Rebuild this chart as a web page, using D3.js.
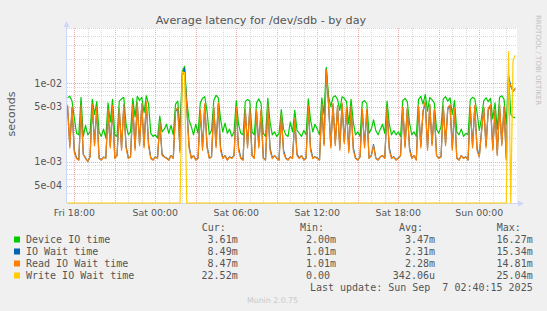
<!DOCTYPE html>
<html>
<head>
<meta charset="utf-8">
<script src="https://cdn.jsdelivr.net/npm/d3@7"></script>
<style>
  body { margin: 0; background: #f0f0f0; }
  svg text { white-space: pre; }
</style>
</head>
<body>
<div id="graph"></div>
<script>

/////////// DATA (milliseconds, one sample every 10 minutes) *****************
// *******************************************************************

var sampleStart = new Date(2025, 8, 5, 17, 30, 0);
var sampleStepMinutes = 10;

var deviceIO = [
  6.5, 6.8, 5.9, 3.6, 2.3, 2.2, 6.6, 2.1, 2.9, 2.2, 2.4, 6.2, 4.0, 5.8, 2.4, 2.1, 2.6, 2.0, 5.6, 3.2,
  6.2, 2.2, 2.1, 5.9, 6.3, 6.6, 3.0, 2.2, 2.4, 6.4, 3.7, 6.8, 6.0, 6.6, 4.2, 6.9, 5.4, 2.3, 2.1, 2.2,
  2.0, 3.8, 2.4, 2.6, 3.0, 2.3, 2.9, 2.2, 5.4, 5.9, 2.5, 14.2, 16.27, 6.0, 3.4, 2.8, 2.2, 3.0, 2.3, 5.6,
  6.4, 6.7, 4.4, 2.2, 2.5, 6.0, 7.0, 6.5, 3.5, 2.4, 3.1, 2.3, 2.6, 2.1, 2.4, 6.0, 3.0, 2.3, 2.2, 5.8,
  6.2, 5.9, 2.4, 2.2, 5.6, 6.3, 5.5, 2.3, 2.1, 6.4, 3.2, 2.2, 2.4, 2.1, 2.3, 4.6, 2.6, 2.2, 2.1, 3.2,
  2.4, 4.5, 2.5, 2.3, 2.1, 2.5, 2.2, 6.3, 3.4, 2.4, 3.0, 2.6, 2.2, 6.5, 4.0, 15.8, 6.8, 5.0, 6.6, 6.9,
  6.2, 4.5, 6.7, 6.4, 5.8, 3.0, 6.2, 3.2, 2.2, 2.4, 2.1, 5.7, 6.0, 5.5, 2.3, 2.6, 3.4, 2.5, 2.2, 2.6,
  3.0, 2.3, 5.9, 3.0, 2.2, 2.5, 2.2, 2.4, 2.1, 6.0, 6.4, 5.8, 3.1, 2.2, 2.4, 2.1, 6.2, 6.8, 5.4, 7.2,
  4.4, 6.6, 6.1, 5.6, 2.6, 2.3, 2.8, 6.3, 6.7, 5.9, 6.5, 4.0, 6.0, 2.4, 2.2, 2.6, 2.1, 2.3, 2.2, 6.1,
  6.6, 6.3, 4.2, 2.5, 3.6, 6.0, 6.5, 5.8, 6.4, 3.5, 5.6, 2.6, 6.6, 6.9, 6.2, 3.0, 12.6, 4.0, 3.7, 3.61
];

var ioWait = [
  5.1, 1.6, 4.8, 1.4, 1.12, 1.06, 5.0, 1.24, 1.12, 1.01, 1.16, 5.2, 1.7, 4.8, 1.12, 1.06, 1.15, 1.12, 4.4, 1.6,
  5.0, 1.12, 1.2, 4.6, 1.5, 5.2, 1.6, 1.12, 1.16, 5.1, 1.5, 5.5, 1.7, 5.3, 1.6, 5.6, 1.7, 1.12, 1.06, 1.16,
  1.12, 3.2, 1.25, 1.16, 1.12, 1.06, 1.2, 1.12, 4.4, 4.7, 1.4, 13.0, 15.34, 5.0, 1.6, 1.12, 1.2, 1.06, 1.12, 4.4,
  1.5, 5.3, 1.6, 1.12, 1.16, 4.8, 1.6, 5.4, 1.5, 1.12, 1.2, 1.06, 1.16, 1.12, 1.2, 4.8, 1.5, 1.12, 1.06, 4.5,
  1.6, 4.7, 1.2, 1.12, 4.3, 1.6, 4.4, 1.12, 1.06, 5.1, 1.5, 1.12, 1.2, 1.12, 1.06, 3.8, 1.4, 1.12, 1.06, 1.16,
  1.12, 3.4, 1.25, 1.12, 1.2, 1.06, 1.12, 5.0, 1.5, 1.12, 1.16, 1.12, 1.06, 5.2, 1.7, 14.9, 5.4, 1.6, 5.3, 1.7,
  5.0, 1.5, 5.4, 1.8, 4.6, 1.4, 4.9, 1.5, 1.12, 1.06, 1.16, 4.5, 1.6, 4.4, 1.12, 1.2, 1.65, 1.12, 1.06, 1.16,
  1.2, 1.12, 4.7, 1.5, 1.12, 1.16, 1.06, 1.12, 1.2, 4.8, 1.6, 4.7, 1.5, 1.12, 1.2, 1.06, 4.9, 1.6, 4.3, 5.7,
  1.5, 5.2, 1.7, 4.4, 1.2, 1.12, 1.16, 5.0, 1.7, 4.7, 5.1, 1.5, 4.6, 1.12, 1.06, 1.2, 1.12, 1.16, 1.06, 4.8,
  1.6, 5.0, 1.5, 1.16, 2.5, 4.8, 1.6, 4.6, 5.1, 1.5, 4.4, 1.25, 5.2, 1.7, 4.9, 1.1, 12.2, 9.1, 7.9, 8.49
];

var readWait = [
  5.3, 1.5, 5.0, 1.3, 1.1, 1.05, 5.2, 1.25, 1.1, 1.01, 1.15, 5.4, 1.6, 5.0, 1.1, 1.05, 1.15, 1.1, 4.6, 1.5,
  5.2, 1.1, 1.2, 4.8, 1.4, 5.4, 1.5, 1.1, 1.15, 5.3, 1.4, 5.7, 1.6, 5.5, 1.5, 5.8, 1.6, 1.1, 1.05, 1.15,
  1.1, 3.3, 1.2, 1.15, 1.1, 1.05, 1.2, 1.1, 4.5, 4.9, 1.3, 12.6, 13.4, 4.9, 1.5, 1.1, 1.2, 1.05, 1.1, 4.6,
  1.4, 5.5, 1.5, 1.1, 1.15, 5.0, 1.5, 5.6, 1.4, 1.1, 1.2, 1.05, 1.15, 1.1, 1.2, 5.0, 1.4, 1.1, 1.05, 4.7,
  1.5, 4.9, 1.2, 1.1, 4.5, 1.5, 4.6, 1.1, 1.05, 5.3, 1.4, 1.1, 1.2, 1.1, 1.05, 4.0, 1.3, 1.1, 1.05, 1.15,
  1.1, 3.5, 1.2, 1.1, 1.2, 1.05, 1.1, 5.2, 1.4, 1.1, 1.15, 1.1, 1.05, 5.4, 1.6, 14.81, 5.6, 1.5, 5.5, 1.6,
  5.2, 1.4, 5.6, 1.7, 4.8, 1.3, 5.1, 1.4, 1.1, 1.05, 1.15, 4.7, 1.5, 4.6, 1.1, 1.2, 1.6, 1.1, 1.05, 1.15,
  1.2, 1.1, 4.9, 1.4, 1.1, 1.15, 1.05, 1.1, 1.2, 5.0, 1.5, 4.9, 1.4, 1.1, 1.2, 1.05, 5.1, 1.5, 4.5, 5.9,
  1.4, 5.4, 1.6, 4.6, 1.2, 1.1, 1.15, 5.2, 1.6, 4.9, 5.3, 1.4, 4.8, 1.1, 1.05, 1.2, 1.1, 1.15, 1.05, 5.0,
  1.5, 5.2, 1.4, 1.15, 2.4, 5.0, 1.5, 4.8, 5.3, 1.4, 4.6, 1.2, 5.4, 1.6, 5.1, 1.05, 10.5, 9.2, 7.8, 8.47
];

var writeWait = [
  0, 0, 0, 0, 0, 0, 0, 0, 0, 0, 0, 0, 0, 0, 0, 0, 0, 0, 0, 0,
  0, 0, 0, 0, 0, 0, 0, 0, 0, 0, 0, 0, 0, 0, 0, 0, 0, 0, 0, 0,
  0, 0, 0, 0, 0, 0, 0, 0, 0, 0, 0, 13.9, 13.6, 0, 0, 0, 0, 0, 0, 0,
  0, 0, 0, 0, 0, 0, 0, 0, 0, 0, 0, 0, 0, 0, 0, 0, 0, 0, 0, 0,
  0, 0, 0, 0, 0, 0, 0, 0, 0, 0, 0, 0, 0, 0, 0, 0, 0, 0, 0, 0,
  0, 0, 0, 0, 0, 0, 0, 0, 0, 0, 0, 0, 0, 0, 0, 0, 0, 0, 0, 0,
  0, 0, 0, 0, 0, 0, 0, 0, 0, 0, 0, 0, 0, 0, 0, 0, 0, 0, 0, 0,
  0, 0, 0, 0, 0, 0, 0, 0, 0, 0, 0, 0, 0, 0, 0, 0, 0, 0, 0, 0,
  0, 0, 0, 0, 0, 0, 0, 0, 0, 0, 0, 0, 0, 0, 0, 0, 0, 0, 0, 0,
  0, 0, 0, 0, 0, 0, 0, 0, 0, 0, 0, 0, 0, 0, 0, 0, 25.04, 0, 19.5, 22.52
];

// legend table
var seriesNames = ["Device IO time", "IO Wait time", "Read IO Wait time", "Write IO Wait time"];
var curValues = ["3.61m", "8.49m", "8.47m", "22.52m"];
var minValues = ["2.00m", "1.01m", "1.01m", "0.00 "];
var avgValues = ["3.47m", "2.31m", "2.28m", "342.06u"];
var maxValues = ["16.27m", "15.34m", "14.81m", "25.04m"];

// axis ticks
var yTickValues = [1e-2, 5e-3, 1e-3, 5e-4];
var yTickLabels = ["1e-02", "5e-03", "1e-03", "5e-04"];
var yDomain = [3e-4, 5e-2];
var xDomain = [new Date(2025, 8, 5, 17, 27, 36), new Date(2025, 8, 7, 2, 47, 36)];

/////////// SET-UP SVG AREA ******************************************
// *******************************************************************

var svgWidth = 547;
var svgHeight = 311;
var plot = { left: 67, right: 517, top: 28, bottom: 203 };
var colors = ["#00cc00", "#0066b3", "#ff8000", "#ffcc00"];
var sansFont = "DejaVu Sans, sans-serif";
var monoFont = "DejaVu Sans Mono, monospace";
var textColor = "#555555";

var svg = d3.select("#graph")
  .append("svg")
  .attr("width", svgWidth)
  .attr("height", svgHeight);

svg.append("rect")
  .attr("width", svgWidth)
  .attr("height", svgHeight)
  .attr("fill", "#f0f0f0");

svg.append("rect")
  .attr("x", plot.left)
  .attr("y", plot.top)
  .attr("width", plot.right - plot.left)
  .attr("height", plot.bottom - plot.top)
  .attr("fill", "#ffffff");

/////////// SCALES ******************************************
// *******************************************************************

var xScale = d3.scaleTime()
  .domain(xDomain)
  .range([plot.left, plot.right]);

var yScale = d3.scaleLog()
  .domain(yDomain)
  .range([plot.bottom, plot.top]);

function px(v) { return Math.round(v) + 0.5; }

/////////// GRID ******************************************
// *******************************************************************

var gridGroup = svg.append("g");

var majorHours = xScale.ticks(d3.timeHour.every(3)).map(d => +d);
xScale.ticks(d3.timeHour.every(1)).forEach(function(t) {
  var isMajor = majorHours.indexOf(+t) >= 0;
  gridGroup.append("line")
    .attr("x1", px(xScale(t))).attr("x2", px(xScale(t)))
    .attr("y1", plot.top).attr("y2", plot.bottom)
    .attr("stroke", isMajor ? "#f0aaaa" : "#d8d8d8")
    .attr("stroke-dasharray", "1,1")
    .attr("shape-rendering", "crispEdges");
});

yScale.ticks().forEach(function(v) {
  if (v <= yDomain[0] * 1.0001) return;
  var isMajor = yTickValues.some(m => Math.abs(m - v) / m < 1e-6);
  gridGroup.append("line")
    .attr("x1", plot.left).attr("x2", plot.right)
    .attr("y1", px(yScale(v))).attr("y2", px(yScale(v)))
    .attr("stroke", isMajor ? "#f0aaaa" : "#d8d8d8")
    .attr("stroke-dasharray", "1,1")
    .attr("shape-rendering", "crispEdges");
});

/////////// AXES ******************************************
// *******************************************************************

var axisColor = "#cfd6f8";

svg.append("line")
  .attr("x1", plot.left - 0.5).attr("x2", plot.left - 0.5)
  .attr("y1", plot.bottom).attr("y2", plot.top - 4)
  .attr("stroke", axisColor);
svg.append("path")
  .attr("d", `M${plot.left - 3.5},${plot.top - 1} L${plot.left + 2.5},${plot.top - 1} L${plot.left - 0.5},${plot.top - 7} Z`)
  .attr("fill", axisColor);

svg.append("line")
  .attr("x1", plot.left).attr("x2", plot.right + 3)
  .attr("y1", plot.bottom + 0.5).attr("y2", plot.bottom + 0.5)
  .attr("stroke", axisColor);
svg.append("path")
  .attr("d", `M${plot.right + 1},${plot.bottom - 2.5} L${plot.right + 1},${plot.bottom + 3.5} L${plot.right + 7},${plot.bottom + 0.5} Z`)
  .attr("fill", axisColor);

// y tick labels
yTickValues.forEach(function(v, i) {
  svg.append("text")
    .attr("x", 62)
    .attr("y", yScale(v) + 3.5)
    .attr("text-anchor", "end")
    .attr("font-family", sansFont)
    .attr("font-size", "9.6px")
    .attr("fill", textColor)
    .text(yTickLabels[i]);
});

// x tick labels
var xLabelFormat = d3.timeFormat("%a %H:%M");
xScale.ticks(d3.timeHour.every(6)).forEach(function(t) {
  svg.append("text")
    .attr("x", xScale(t))
    .attr("y", 216)
    .attr("text-anchor", "middle")
    .attr("font-family", sansFont)
    .attr("font-size", "9.4px")
    .attr("fill", textColor)
    .text(xLabelFormat(t));
});

/////////// LINES ******************************************
// *******************************************************************

var sampleTimes = deviceIO.map((d, i) => new Date(+sampleStart + i * sampleStepMinutes * 60000));

var line = d3.line()
  .x((d, i) => xScale(sampleTimes[i]))
  .y(d => yScale(Math.max(d / 1000, yDomain[0])));

var plotGroup = svg.append("g");
[deviceIO, ioWait, readWait, writeWait].forEach(function(series, k) {
  plotGroup.append("path")
    .attr("d", line(series))
    .attr("fill", "none")
    .attr("stroke", colors[k])
    .attr("stroke-width", 1.2)
    .attr("stroke-linejoin", "round");
});

/////////// TITLES ******************************************
// *******************************************************************

svg.append("text")
  .attr("x", 261)
  .attr("y", 24)
  .attr("text-anchor", "middle")
  .attr("font-family", sansFont)
  .attr("font-size", "11.2px")
  .attr("fill", textColor)
  .text("Average latency for /dev/sdb - by day");

svg.append("text")
  .attr("transform", "translate(15, 114) rotate(-90)")
  .attr("text-anchor", "middle")
  .attr("font-family", sansFont)
  .attr("font-size", "11px")
  .attr("fill", textColor)
  .text("seconds");

svg.append("text")
  .attr("transform", "translate(535.5, 15) rotate(90)")
  .attr("font-family", sansFont)
  .attr("font-size", "7px")
  .attr("fill", "#c0c0c0")
  .text("RRDTOOL / TOBI OETIKER");

/////////// LEGEND ******************************************
// *******************************************************************

var legendTop = 231;
var rowStep = 12;
var charW = 5.95;
var columnEnds = [237.7, 336, 435, 532.7];
var headers = ["Cur:", "Min:", "Avg:", "Max:"];
var columns = [curValues, minValues, avgValues, maxValues];

function monoText(x, y, str, anchor) {
  svg.append("text")
    .attr("x", x)
    .attr("y", y)
    .attr("text-anchor", anchor)
    .attr("font-family", monoFont)
    .attr("font-size", "10px")
    .attr("fill", textColor)
    .text(str);
}

headers.forEach(function(h, c) {
  monoText(columnEnds[c] - 2 * charW, legendTop, h, "end");
});

seriesNames.forEach(function(name, r) {
  var y = legendTop + rowStep * (r + 1);
  svg.append("rect")
    .attr("x", 14)
    .attr("y", y - 6.5)
    .attr("width", 6)
    .attr("height", 6)
    .attr("fill", colors[r]);
  monoText(26, y, name, "start");
  columns.forEach(function(col, c) {
    monoText(columnEnds[c], y, col[r], "end");
  });
});

monoText(columnEnds[3], legendTop + rowStep * 5, "Last update: Sun Sep  7 02:40:15 2025", "end");

svg.append("text")
  .attr("x", 272.5)
  .attr("y", 303)
  .attr("text-anchor", "middle")
  .attr("font-family", sansFont)
  .attr("font-size", "7.8px")
  .attr("fill", "#c8c8c8")
  .text("Munin 2.0.75");

</script>
</body>
</html>
